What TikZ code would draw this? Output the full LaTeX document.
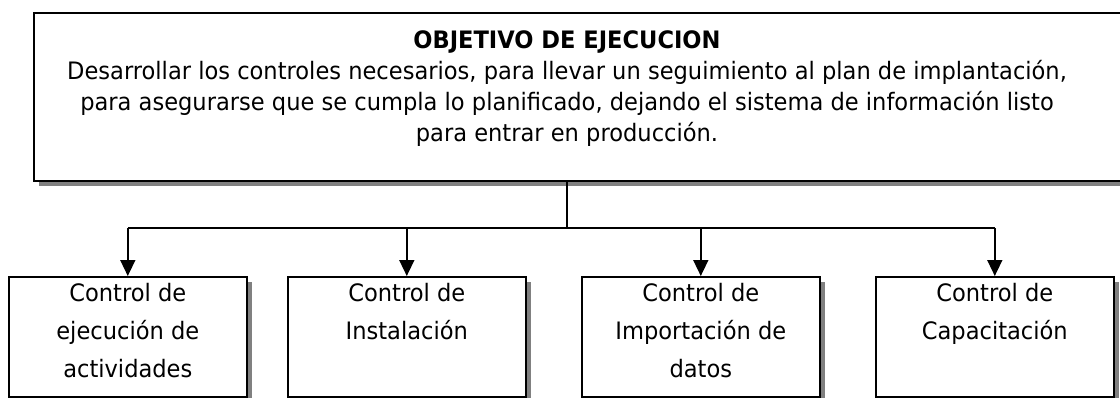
\documentclass[tikz,border=0pt]{standalone}
\usepackage{fontspec}
\setmainfont{DejaVu Sans}[FakeStretch=0.94]
\usetikzlibrary{arrows.meta,shadows}
\begin{document}
\begin{tikzpicture}[x=1pt,y=-1pt,
  box/.style={draw=black, line width=1.6pt, fill=white, inner sep=0pt,
    drop shadow={shadow xshift=5pt, shadow yshift=-5pt, fill=black!50, opacity=1}},
  smallbox/.style={box, minimum width=238pt, minimum height=120pt, anchor=north west},
  toptext/.style={align=center, inner sep=0pt, anchor=north, font=\fontsize{24}{31}\selectfont},
  boxtext/.style={align=center, inner sep=0pt, anchor=north, font=\fontsize{24}{38}\selectfont},
  conn/.style={line width=1.6pt, draw=black},
  arr/.style={conn, -{Triangle[width=15pt,length=16pt]}}]
\useasboundingbox (0,0) rectangle (1120,397);
\node[box, minimum width=1100pt, minimum height=168pt, anchor=north west] (top) at (33,12) {};
\node[toptext] (tt) at (567,30.5) {\textbf{OBJETIVO DE EJECUCION}\\
Desarrollar los controles necesarios, para llevar un seguimiento al plan de implantación,\\
para asegurarse que se cumpla lo planificado, dejando el sistema de información listo\\
para entrar en producción.};
\node[smallbox] (b1) at (8,276) {};
\node[smallbox] (b2) at (287,276) {};
\node[smallbox] (b3) at (581,276) {};
\node[smallbox] (b4) at (875,276) {};
\node[boxtext] (t1) at ([yshift=-7pt]b1.north) {Control de\\ejecución de\\actividades};
\node[boxtext] (t2) at ([yshift=-7pt]b2.north) {Control de\\Instalación};
\node[boxtext] (t3) at ([yshift=-7pt]b3.north) {Control de\\Importación de\\datos};
\node[boxtext] (t4) at ([yshift=-7pt]b4.north) {Control de\\Capacitación};
\coordinate (hub) at (567,228);
\draw[conn] (top.south -| hub) -- (hub);
\draw[conn] (hub -| b1.north) -- (hub -| b4.north);
\foreach \b in {b1,b2,b3,b4} {
  \draw[arr] (hub -| \b.north) -- (\b.north);
}
\end{tikzpicture}
\end{document}
